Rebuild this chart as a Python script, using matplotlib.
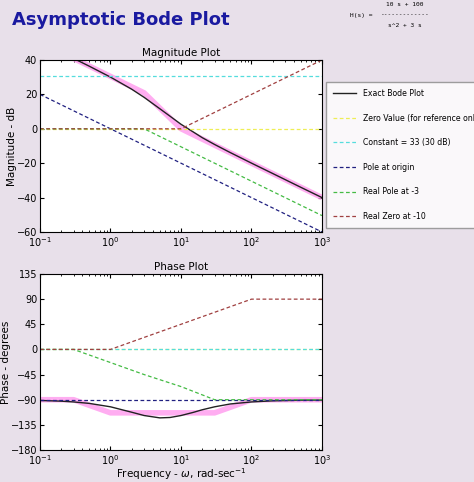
import matplotlib
matplotlib.use("Agg")
import matplotlib.pyplot as plt
import numpy as np

# H(s) = (10 s + 100) / (s^2 + 3 s)
w_exact = [0.1, 0.2, 0.3, 0.5, 1, 2, 3, 5, 7, 10, 15, 20, 30, 50, 100, 200, 500, 1000]
mag_exact = [50.45, 44.4, 40.88, 36.4, 30.04, 23.01, 18.28, 11.68, 7.3, 2.63, -1.9, -5.15,
             -9.13, -13.82, -19.96, -26.0, -34.0, -40.0]
phase_exact = [-91.3, -92.6, -94.0, -96.6, -102.7, -112.4, -118.3, -122.5, -121.8, -118.3,
               -112.6, -108.0, -102.7, -97.6, -94.0, -92.0, -90.9, -90.7]

w_asym = [0.1, 0.3, 1, 3, 10, 30, 100, 1000]
mag_asym = [50.45, 40.9, 30.45, 20.9, 0.05, -9.5, -20.0, -40.0]
phase_asym = [-90, -90, -113.5, -113.5, -113.5, -113.5, -90, -90]

w_lines = [0.1, 0.3, 1, 3, 10, 30, 100, 1000]
mag_zero = [0, 0, 0, 0, 0, 0, 0, 0]
mag_const = [30.45] * 8
mag_pole0 = [20, 10.46, 0, -9.54, -20, -29.54, -40, -60]
mag_pole3 = [0, 0, 0, 0, -10.46, -20, -30.46, -50.46]
mag_zero10 = [0, 0, 0, 0, 0, 9.54, 20, 40]
ph_zero = [0] * 8
ph_const = [0] * 8
ph_pole0 = [-90] * 8
ph_pole3 = [0, 0, -23.5, -45, -66.5, -90, -90, -90]
ph_zero10 = [0, 0, 0, 21.5, 45, 66.5, 90, 90]

labels = ['Exact Bode Plot', 'Zero Value (for reference only)', 'Constant = 33 (30 dB)',
          'Pole at origin', 'Real Pole at -3', 'Real Zero at -10']
colors = ['#EEEE55', '#55DDDD', '#202080', '#44BB44', '#A04040']

bg = '#E8E0EA'
fig = plt.figure(figsize=(4.74, 4.82), dpi=100, facecolor=bg)
ax1 = fig.add_axes([40/474, 1-232/482, 282/474, 172/482])
ax2 = fig.add_axes([40/474, 1-450/482, 282/474, 176/482])

handles = []
for ax, ex, asy, parts in [(ax1, mag_exact, mag_asym, [mag_zero, mag_const, mag_pole0, mag_pole3, mag_zero10]),
                           (ax2, phase_exact, phase_asym, [ph_zero, ph_const, ph_pole0, ph_pole3, ph_zero10])]:
    ax.semilogx(w_asym, asy, color='#FF99EE', lw=4, alpha=0.8, solid_capstyle='butt')
    hs = [ax.semilogx(w_exact, ex, color='#222222', lw=1)[0]]
    for y, c in zip(parts, colors):
        hs.append(ax.semilogx(w_lines, y, color=c, lw=0.9, ls=(0, (3, 2)))[0])
    handles.append(hs)
    ax.set_xlim(0.1, 1000)
    ax.tick_params(labelsize=7, direction='in', which='both', top=True, right=True, length=3, pad=2)
    ax.tick_params(which='minor', length=1.5)

ax1.set_ylim(-60, 40)
ax1.set_yticks(range(-60, 41, 20))
ax1.set_title('Magnitude Plot', fontsize=7.5, pad=3)
ax1.set_ylabel('Magnitude - dB', fontsize=7.5, labelpad=0)

ax2.set_ylim(-180, 135)
ax2.set_yticks(range(-180, 136, 45))
ax2.set_title('Phase Plot', fontsize=7.5, pad=3)
ax2.set_ylabel('Phase - degrees', fontsize=7.5, labelpad=0)
ax2.set_xlabel(r'Frequency - $\omega$, rad-sec$^{-1}$', fontsize=7.5, labelpad=0)

fig.legend(handles[0], labels, loc='upper left', bbox_to_anchor=(326/474, 1-82/482), fontsize=5.6,
           frameon=True, fancybox=False, edgecolor='#888888', labelspacing=2.0,
           handlelength=3, borderpad=0.9, borderaxespad=0)

fig.text(12/474, 1-20/482, 'Asymptotic Bode Plot', fontsize=13, fontweight='bold',
         color='#1A1AA0', va='center')
fig.text(350/474, 1-15/482, 'H(s) =', fontsize=4.5, family='DejaVu Sans Mono', va='center')
fig.text(405/474, 1-6/482, '10 s + 100', fontsize=4.5, family='DejaVu Sans Mono', ha='center')
fig.text(405/474, 1-15/482, '-------------', fontsize=4.5, family='DejaVu Sans Mono', ha='center', va='center')
fig.text(405/474, 1-27/482, 's^2 + 3 s', fontsize=4.5, family='DejaVu Sans Mono', ha='center')

plt.savefig('out.png', dpi=100, facecolor=bg)
